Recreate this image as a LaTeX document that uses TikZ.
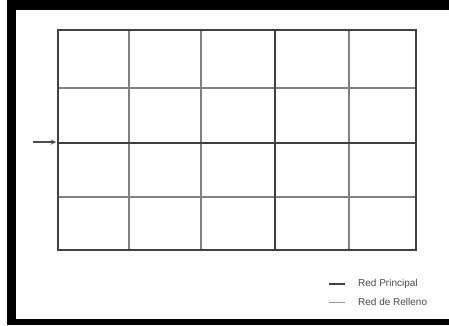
\documentclass[tikz,border=0pt]{standalone}
\usepackage{fontspec}
\setmainfont{Liberation Sans}
\usepackage{xcolor}

\begin{document}
\begin{tikzpicture}[x=1pt, y=-1pt]
                \useasboundingbox (0,0) rectangle (449,325);
                \fill[white] (0,0) rectangle (449,325);
                % black frame of the scan
                \fill[black] (7,0) rectangle (449,10);
                \fill[black] (7,0) rectangle (16,325);
                \fill[black] (7,319) rectangle (449,325);
                \begin{scope}
                    % red de relleno
                    \foreach \x in {129, 201, 349} {
                        \draw[line width=1.1pt, draw=black!50] (\x,30) -- (\x,250);
                    }
                    \foreach \y in {88, 197} {
                        \draw[line width=1.1pt, draw=black!50] (58,\y) -- (416,\y);
                    }
                    % red principal
                    \draw[line width=2pt, draw=black!75] (275,30) -- (275,250);
                    \draw[line width=2pt, draw=black!75] (58,143) -- (416,143);
                    \draw[line width=2pt, draw=black!75] (58,30) rectangle (416,250);
                    \draw[->, line width=1.3pt, draw=black!70, >=stealth] (33,142) -- (56,142);
                \end{scope}
                \begin{scope}
                    \draw[line width=2.2pt, draw=black!75] (329,284) -- (345,284);
                    \draw[line width=0.7pt, draw=black!40] (329,302) -- (345,302);
                    \node[right, inner sep=0pt, font=\fontsize{10}{12}\selectfont, text=black!70] (principal) at (358,284) {Red Principal};
                    \node[right, inner sep=0pt, font=\fontsize{10}{12}\selectfont, text=black!70] (relleno) at (358,302) {Red de Relleno};
                \end{scope}
            \end{tikzpicture}
\end{document}
